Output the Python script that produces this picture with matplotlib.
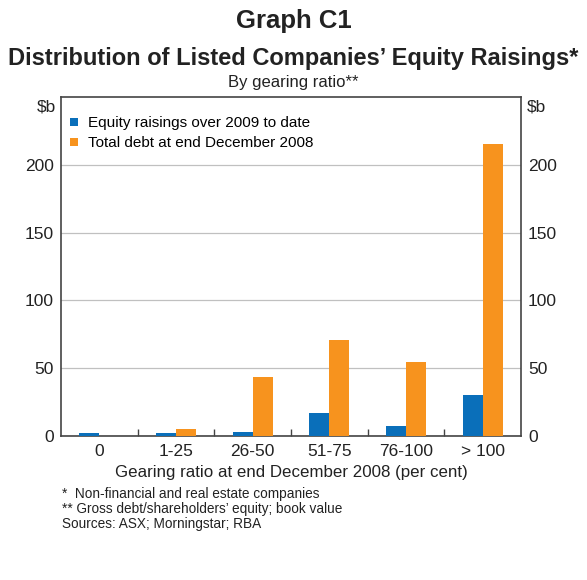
import matplotlib
import numpy as np

matplotlib.use("Agg")
import matplotlib.pyplot as plt
from matplotlib.lines import Line2D

plt.rcParams["font.family"] = ["Liberation Sans", "DejaVu Sans"]

categories = ["0", "1-25", "26-50", "51-75", "76-100", "> 100"]
equity_raisings = [2.4, 2.0, 3.0, 17.0, 7.5, 30.0]
total_debt = [0.0, 5.0, 43.5, 71.0, 54.5, 215.0]
series_labels = ["Equity raisings over 2009 to date", "Total debt at end December 2008"]

blue = "#0a6fba"
orange = "#f7931e"
text_colour = "#222222"

figure = plt.figure(figsize=(5.87, 5.80), dpi=100)
axis = figure.add_axes([0.104, 0.2483, 0.7836, 0.5845])

x = np.arange(len(categories))
bar_width = 0.26
axis.bar(x - bar_width / 2, equity_raisings, bar_width, color=blue, zorder=3)
axis.bar(x + bar_width / 2, total_debt, bar_width, color=orange, zorder=3)

axis.set_xlim(-0.5, len(categories) - 0.5)
axis.set_ylim(0, 250)
axis.set_yticks([0, 50, 100, 150, 200])
axis.yaxis.grid(True, color="#c0c0c0", linewidth=0.9, zorder=0)
axis.tick_params(axis="y", length=0, labelsize=12.5, colors=text_colour, pad=5,
                 labelright=True, right=False)

axis.set_xticks(x)
axis.set_xticklabels(categories)
axis.tick_params(axis="x", which="major", length=0, labelsize=12.5, colors=text_colour, pad=6)
axis.set_xticks(np.arange(0.5, len(categories) - 0.5, 1), minor=True)
axis.tick_params(axis="x", which="minor", direction="in", length=5, width=1, color="#444444")

for spine in axis.spines.values():
    spine.set_color("#444444")
    spine.set_linewidth(1.2)

axis.set_xlabel("Gearing ratio at end December 2008 (per cent)", fontsize=12.2,
                color=text_colour, labelpad=4)

axis.text(-0.01, 0.993, "\\$b", transform=axis.transAxes, ha="right", va="top",
          fontsize=12.5, color=text_colour)
axis.text(1.012, 0.993, "\\$b", transform=axis.transAxes, ha="left", va="top",
          fontsize=12.5, color=text_colour)

handles = [Line2D([], [], linestyle="none", marker="s", markersize=6,
                  markerfacecolor=colour, markeredgewidth=0)
           for colour in (blue, orange)]
axis.legend(handles, series_labels, loc="upper left", frameon=False, fontsize=11,
            handlelength=0.6, handletextpad=0.6, labelspacing=0.4,
            borderaxespad=0.4, bbox_to_anchor=(-0.008, 0.98))

figure.text(0.5, 0.963, "Graph C1", ha="center", va="center", fontsize=18.5,
            fontweight="bold", color=text_colour)
figure.text(0.5, 0.900, "Distribution of Listed Companies\u2019 Equity Raisings*",
            ha="center", va="center", fontsize=17, fontweight="bold", color=text_colour)
figure.text(0.5, 0.857, "By gearing ratio**", ha="center", va="center",
            fontsize=12, color=text_colour)

footnotes = ("*  Non-financial and real estate companies\n"
             "** Gross debt/shareholders\u2019 equity; book value\n"
             "Sources: ASX; Morningstar; RBA")
figure.text(0.106, 0.16, footnotes, ha="left", va="top", fontsize=9.8,
            color=text_colour, linespacing=1.1)

figure.savefig("out.png", dpi=100)
plt.close(figure)
